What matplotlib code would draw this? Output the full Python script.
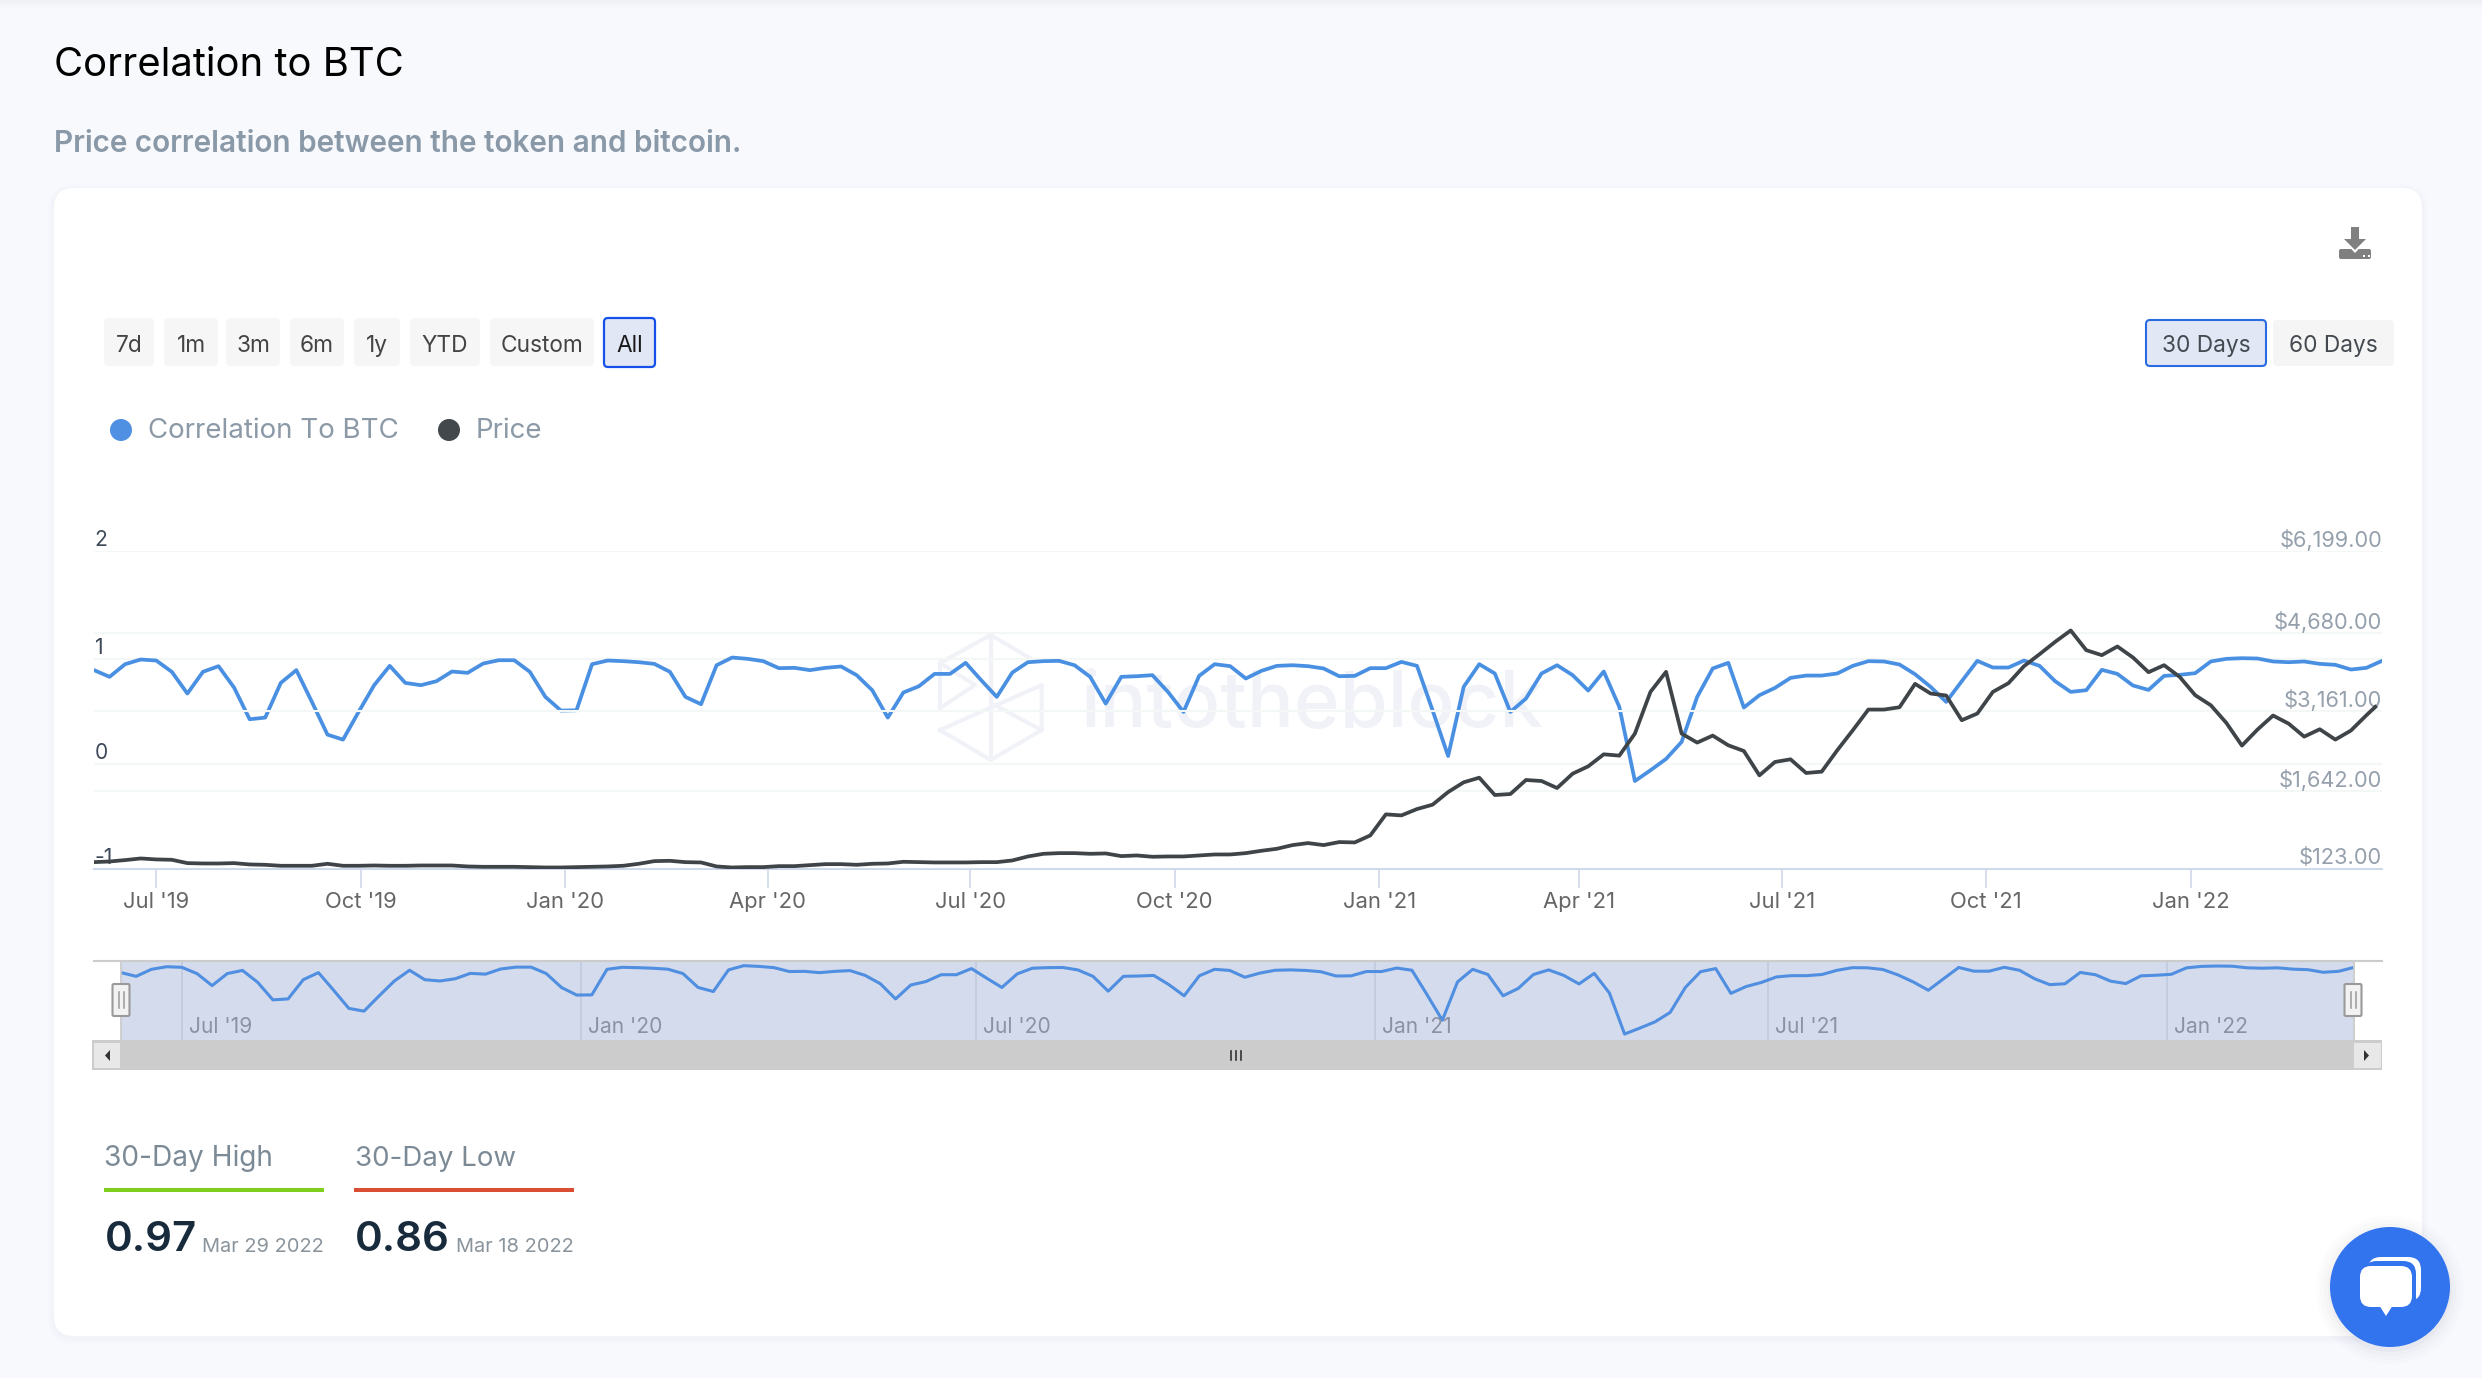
import numpy as np
import pandas as pd
import matplotlib
matplotlib.use("Agg")
import matplotlib.pyplot as plt
from matplotlib.patches import FancyBboxPatch, Circle, Polygon, Rectangle
from matplotlib.transforms import ScaledTranslation
from matplotlib.ticker import FixedLocator

W, H = 2482, 1378
plt.rcParams['font.family'] = ['Inter', 'DejaVu Sans']

correlation = [
 .895,.831,.952,.997,.987,.879,.671,.879,.933,.728,.425,.441,.773,.895,.591,.278,.230,.495,.751,.936,
 .773,.751,.789,.882,.869,.958,.990,.990,.879,.639,.508,.511,.952,.987,.981,.971,.955,.879,.639,.569,
 .942,1.015,1.003,.981,.914,.917,.895,.917,.930,.847,.703,
 .441,.681,.741,.859,.859,.965,.799,.639,.872,.971,.981,.984,.942,.831,.575,.831,.837,.847,.687,.495,
 .840,.952,.933,.815,.888,.936,.942,.933,.911,.837,.840,.914,.914,.974,.936,.511,.073,.735,.952,.863,
 .495,.623,.863,.942,.847,.700,.882,.543,-.165,-.063,.045,.208,
 .639,.911,.965,.537,.655,.725,.821,.843,.843,.863,.936,.981,.978,.949,.856,.735,.591,.789,.984,.920,
 .920,.987,.936,.789,.687,.703,.898,.859,.748,.706,.840,.850,.866,.978,1.003,1.009,1.006,.978,.971,.978,
 .955,.946,.901,.917,.984]

price = [
 253,266,293,325,306,299,234,227,227,234,208,201,182,182,182,221,182,182,188,182,
 182,188,188,188,169,162,162,162,156,149,149,156,162,169,182,221,273,279,253,247,
 169,149,156,156,175,175,195,214,214,201,221,227,260,253,247,247,247,253,253,286,
 364,416,429,429,416,423,371,384,358,364,364,384,403,403,429,475,514,586,625,586,
 645,638,775,1186,1166,1290,1375,1622,1807,1895,1564,1583,1851,1832,1699,1971,2110,2338,2313,2731,
 3531,3920,2731,2560,2693,2509,2401,1939,2193,2243,1984,2009,2414,2794,3187,3187,3232,3687,3499,3460,
 2984,3111,3531,3700,4031,4264,4504,4723,4342,4245,4414,4200,3914,4050,3823,3466,3271,2933,2503,2807,
 3073,2920,2673,2813,2617,2788,3079,3239]

dates = pd.date_range('2019-06-03', periods=len(correlation), freq='7D')
price_dates = list(dates[:-1]) + [pd.Timestamp('2022-03-25')]

corr_ticks = [-1, 0, 1, 2]
corr_labels = ['-1', '0', '1', '2']
price_ticks = [123, 1642, 3161, 4680, 6199]
price_labels = ['$123.00', '$1,642.00', '$3,161.00', '$4,680.00', '$6,199.00']
x_tick_dates = ['2019-07-01','2019-10-01','2020-01-01','2020-04-01','2020-07-01','2020-10-01',
                '2021-01-01','2021-04-01','2021-07-01','2021-10-01','2022-01-01']
x_tick_labels = ["Jul '19","Oct '19","Jan '20","Apr '20","Jul '20","Oct '20",
                 "Jan '21","Apr '21","Jul '21","Oct '21","Jan '22"]
nav_tick_dates = ['2019-07-01','2020-01-01','2020-07-01','2021-01-01','2021-07-01','2022-01-01']
nav_tick_labels = ["Jul '19","Jan '20","Jul '20","Jan '21","Jul '21","Jan '22"]
range_buttons = ['7d','1m','3m','6m','1y','YTD','Custom','All']
window_buttons = ['30 Days','60 Days']

PAGE = '#F8F9FD'
fig = plt.figure(figsize=(W/100, H/100), dpi=100, facecolor=PAGE)

def px(size):
    return size * 0.72

def axes_at(x0, y0, x1, y1, **kw):
    return fig.add_axes([x0/W, 1-y1/H, (x1-x0)/W, (y1-y0)/H], **kw)

# ---------- page chrome ----------
bg = axes_at(0, 0, W, H)
bg.set_xlim(0, W); bg.set_ylim(H, 0); bg.axis('off')

def rbox(x0, y0, x1, y1, r, fc, ec='none', lw=0, z=1, ax=bg):
    p = FancyBboxPatch((x0, y0), x1-x0, y1-y0, boxstyle=f'round,pad=0,rounding_size={r}',
                       fc=fc, ec=ec, lw=lw, zorder=z)
    ax.add_patch(p)
    return p

for i in range(9):
    bg.add_patch(Rectangle((0, i), W, 1, fc='#000000', alpha=0.035*(1-i/9), ec='none'))
for i, a in enumerate([0.006, 0.008, 0.012]):
    g = 6-2*i
    rbox(54-g, 188-g+2, 2422+g, 1336+g+2, 20+g, '#6070A0', z=0.5).set_alpha(a)
rbox(54, 188, 2422, 1336, 20, 'white', z=1)

bg.text(54, 66, 'Correlation to BTC', fontsize=px(40), color='black', va='center', ha='left', zorder=3)
bg.text(54, 144, 'Price correlation between the token and bitcoin.', fontsize=px(29.7),
        color='#8A99A8', va='center', ha='left', weight='semibold', zorder=3)

# range buttons
edges = [(104,154),(164,218),(226,280),(290,344),(354,400),(410,480),(490,594),(604,655)]
for name, (a, b) in zip(range_buttons, edges):
    if name == 'All':
        rbox(a, 318, b, 367, 4, '#E1E7F4', ec='#1550E8', lw=1.6, z=2)
        col = '#1A1A1A'
    else:
        rbox(a, 318, b, 366, 4, '#F6F6F6', z=2)
        col = '#444444'
    bg.text((a+b)/2, 346, name, fontsize=px(22.7), color=col, ha='center', va='center', zorder=3)
for name, (a, b), active in zip(window_buttons, [(2146,2266),(2273,2394)], [True, False]):
    if active:
        rbox(a, 320, b, 366, 4, '#E1E7F4', ec='#2A6BE0', lw=1.5, z=2)
    else:
        rbox(a, 320, b, 366, 4, '#F5F5F5', z=2)
    bg.text((a+b)/2, 346, name, fontsize=px(22.7), color='#444A50', ha='center', va='center', zorder=3)

# download icon
rbox(2339, 249, 2371, 259, 2, '#808080', z=3)
bg.add_patch(Polygon([[2341,238],[2369,238],[2355,253]], fc='white', ec='none', zorder=3.1))
bg.add_patch(Rectangle((2351,227), 8, 14, fc='#808080', ec='none', zorder=3.2))
bg.add_patch(Polygon([[2344,239],[2366,239],[2355,250]], fc='#808080', ec='none', zorder=3.2))
for cx in (2364, 2369):
    bg.add_patch(Rectangle((cx-1.2, 254.5), 2.4, 2.4, fc='white', ec='none', zorder=3.3))

# legend
bg.add_patch(Circle((121, 430), 11, fc='#4F90E3', ec='none', zorder=3))
bg.text(148, 431, 'Correlation To BTC', fontsize=px(27.7), color='#8C99A6', va='center', zorder=3)
bg.add_patch(Circle((449, 430), 11, fc='#43484D', ec='none', zorder=3))
bg.text(476, 431, 'Price', fontsize=px(27.7), color='#8C99A6', va='center', zorder=3)

# watermark
WM = '#F0F2F8'
for seg in ([[940,708],[940,663],[990.7,635],[1033,660]],
            [[940,663],[975,685],[940,708]],
            [[990.7,635],[990.7,760]],
            [[940,730],[990.7,760],[1041.7,730],[1041.7,685],[940,730]],
            [[990.7,703],[1041.7,730]]):
    bg.plot(*zip(*seg), color=WM, lw=2.9, zorder=2)
bg.text(1080, 727, 'intotheblock', fontsize=px(78), color=WM, va='baseline', ha='left',
        weight='medium', zorder=2)

# stats
bg.text(104, 1158.5, '30-Day High', fontsize=px(28), color='#7C8A96', va='center', zorder=3)
bg.add_patch(Rectangle((104,1188), 220, 4, fc='#7FCF1F', ec='none', zorder=3))
bg.text(105, 1251, '0.97', fontsize=px(42), color='#182B3C', va='baseline', weight='semibold', zorder=3)
bg.text(324, 1251.5, 'Mar 29 2022', fontsize=px(20), color='#8A949C', va='baseline', ha='right', zorder=3)
bg.text(355, 1158.5, '30-Day Low', fontsize=px(27.7), color='#7C8A96', va='center', zorder=3)
bg.add_patch(Rectangle((354,1188), 220, 4, fc='#D94E35', ec='none', zorder=3))
bg.text(355, 1251, '0.86', fontsize=px(42), color='#182B3C', va='baseline', weight='semibold', zorder=3)
bg.text(574, 1251.5, 'Mar 18 2022', fontsize=px(20), color='#8A949C', va='baseline', ha='right', zorder=3)

# scrollbar
bg.add_patch(Rectangle((92,1040), 2290, 30, fc='#CCCCCC', ec='none', zorder=3))
bg.add_patch(Rectangle((94,1043), 26, 25, fc='#E8E8E8', ec='none', zorder=3.1))
bg.add_patch(Rectangle((2354,1043), 27, 25, fc='#E8E8E8', ec='none', zorder=3.1))
bg.add_patch(Polygon([[110,1050],[110,1061],[105,1055.5]], fc='#333333', ec='none', zorder=3.2))
bg.add_patch(Polygon([[2364,1050],[2364,1061],[2369,1055.5]], fc='#333333', ec='none', zorder=3.2))
for dx in (1231, 1236, 1241):
    bg.plot([dx, dx], [1051, 1060], color='#333333', lw=1.2, zorder=3.2)

# chat bubble
for r, a in [(74,0.012),(70,0.015),(66,0.02),(62,0.03)]:
    bg.add_patch(Circle((2390,1290), r, fc='#404060', ec='none', alpha=a, zorder=4))
bg.add_patch(Circle((2390,1287), 60, fc='#3273EE', ec='none', zorder=4.1))
rbox(2368,1257,2421,1301,13,'white',z=4.2)
rbox(2364,1261,2416,1317,13,'#3273EE',z=4.3)
rbox(2360,1266,2412,1307,11,'white',z=4.4)
bg.add_patch(Polygon([[2379,1305],[2393,1305],[2386,1316]], fc='white', ec='none', zorder=4.5))

# ---------- main chart ----------
C0, C1 = (94, 550.7), (2382, 868.8)
GRID = '#F3F7F6'; AXIS = '#CCD6EB'

def axis_scale(ticks, fracs):
    def forward(v):
        v = np.asarray(v, float)
        out = np.interp(v, ticks, fracs)
        hi = fracs[-1] + (v-ticks[-1])*(fracs[-1]-fracs[-2])/(ticks[-1]-ticks[-2])
        lo = fracs[0] + (v-ticks[0])*(fracs[1]-fracs[0])/(ticks[1]-ticks[0])
        return np.where(v > ticks[-1], hi, np.where(v < ticks[0], lo, out))
    def inverse(p):
        return np.interp(p, fracs, ticks)
    return forward, inverse

ax = axes_at(C0[0], C0[1], C1[0], C1[1], facecolor='none')
ax2 = ax.twinx()
ax.set_zorder(5); ax2.set_zorder(6); ax2.patch.set_visible(False)

ax.set_yscale('function', functions=axis_scale(corr_ticks, [0, .3305, .6590, 1]))
ax2.set_yscale('function', functions=axis_scale(price_ticks, [0, .2445, .4964, .7419, 1]))
ax.set_ylim(-1, 2); ax2.set_ylim(123, 6199)
ax.set_xlim(dates[0], dates[-1])

ax.plot(dates, correlation, color='#4A90E2', lw=2.7, solid_joinstyle='round', zorder=3)
ax2.plot(price_dates, price, color='#3F4448', lw=2.7, solid_joinstyle='round', zorder=3)

ax.yaxis.set_major_locator(FixedLocator(corr_ticks))
ax.set_yticklabels(corr_labels)
ax2.yaxis.set_major_locator(FixedLocator(price_ticks))
ax2.set_yticklabels(price_labels)
ax.yaxis.set_minor_locator(FixedLocator([])); ax2.yaxis.set_minor_locator(FixedLocator([]))

ax.grid(axis='y', color=GRID, lw=1.5); ax2.grid(axis='y', color=GRID, lw=1.5)
ax.set_axisbelow(True); ax2.set_axisbelow(True)
for a in (ax, ax2):
    for s in a.spines.values():
        s.set_visible(False)
    a.spines['bottom'].set_visible(True)
    a.spines['bottom'].set_color(AXIS); a.spines['bottom'].set_linewidth(1.2)
    a.tick_params(axis='y', length=0)

up = ScaledTranslation(0, 11/100, fig.dpi_scale_trans)
ax.tick_params(axis='y', pad=-0.5, labelsize=px(21), labelcolor='#3E4A5A')
for t in ax.get_yticklabels():
    t.set_ha('left'); t.set_va('center'); t.set_transform(t.get_transform() + up)
ax2.tick_params(axis='y', pad=0, labelsize=px(21.8), labelcolor='#95A0AC')
for t in ax2.get_yticklabels():
    t.set_ha('right'); t.set_va('center'); t.set_transform(t.get_transform() + up)

ax.set_xticks(pd.to_datetime(x_tick_dates))
ax.set_xticklabels(x_tick_labels)
ax.xaxis.set_minor_locator(FixedLocator([]))
ax.tick_params(axis='x', length=14, width=1.1, color=AXIS, labelsize=px(22), labelcolor='#666666', pad=2.5)

# ---------- navigator ----------
nav = axes_at(121, 960.7, 2353.6, 1040, facecolor='#D3DBEC')
nav.set_zorder(2.5)
nav.set_xlim(dates[0], dates[-1]); nav.set_ylim(-0.268, 1.101)
nav.plot(dates, correlation, color='#4F8EE0', lw=2.2, solid_joinstyle='round', zorder=3)
nav.set_yticks([])
nav.set_xticks(pd.to_datetime(nav_tick_dates)); nav.set_xticklabels([])
nav.xaxis.set_minor_locator(FixedLocator([]))
nav.tick_params(axis='x', length=0)
nav.grid(axis='x', color='#BFC9DC', lw=1.1)
nav.set_axisbelow(True)
for s in nav.spines.values():
    s.set_visible(False)
for d, lab in zip(nav_tick_dates, nav_tick_labels):
    nav.annotate(lab, (pd.Timestamp(d), 0), xycoords=('data', 'axes fraction'),
                 xytext=(7*.72, 13*.72), textcoords='offset points',
                 fontsize=px(21), color='#8A92A3', ha='left', va='center', zorder=4)

# overlay for navigator edges and handles, above the navigator
top = axes_at(0, 0, W, H, facecolor='none')
top.set_xlim(0, W); top.set_ylim(H, 0); top.axis('off'); top.set_zorder(7)
top.plot([94, 2382], [960.5, 960.5], color='#CCCCCC', lw=1.5)
top.plot([121, 121], [961, 1040], color='#CCCCCC', lw=1.3)
top.plot([2354, 2354], [961, 1040], color='#CCCCCC', lw=1.3)
for cx in (121, 2353):
    rbox(cx-8.5, 984, cx+8.5, 1016, 1.5, '#F2F2F2', ec='#999999', lw=1.5, z=5, ax=top)
    for dx in (-2.5, 2.5):
        top.plot([cx+dx, cx+dx], [992, 1008], color='#999999', lw=1.1, zorder=6)

fig.savefig('out.png', dpi=100, facecolor=fig.get_facecolor())
